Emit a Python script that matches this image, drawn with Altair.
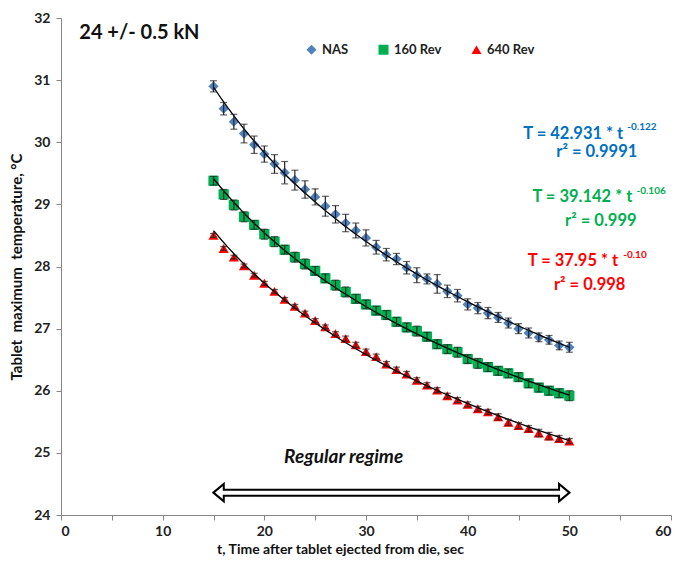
import altair as alt
import pandas as pd

# ---------------- data ----------------
t_vals = list(range(15, 51))
nas = [30.90, 30.54, 30.33, 30.14, 29.96, 29.81, 29.65, 29.51, 29.39, 29.24,
       29.12, 28.97, 28.84, 28.70, 28.58, 28.46, 28.31, 28.19, 28.12, 27.98,
       27.86, 27.80, 27.72, 27.60, 27.53, 27.39, 27.33, 27.25, 27.18, 27.09,
       27.00, 26.93, 26.86, 26.82, 26.73, 26.70]
rev160 = [29.38, 29.16, 28.99, 28.80, 28.67, 28.52, 28.40, 28.27, 28.15, 28.04,
          27.93, 27.81, 27.70, 27.59, 27.48, 27.39, 27.29, 27.22, 27.11, 27.02,
          26.96, 26.87, 26.75, 26.67, 26.62, 26.51, 26.44, 26.38, 26.32, 26.28,
          26.22, 26.12, 26.05, 26.00, 25.96, 25.92]
rev640 = [28.50, 28.29, 28.15, 28.01, 27.86, 27.73, 27.60, 27.47, 27.36, 27.25,
          27.13, 27.03, 26.92, 26.84, 26.74, 26.63, 26.55, 26.43, 26.34, 26.27,
          26.17, 26.09, 26.01, 25.92, 25.85, 25.78, 25.71, 25.66, 25.58, 25.49,
          25.44, 25.39, 25.32, 25.27, 25.23, 25.19]
err_nas = [0.09, 0.10, 0.12, 0.15, 0.14, 0.13, 0.15, 0.18, 0.16, 0.14,
           0.13, 0.16, 0.14, 0.14, 0.12, 0.13, 0.11, 0.10, 0.09, 0.10,
           0.12, 0.08, 0.15, 0.10, 0.10, 0.09, 0.09, 0.09, 0.08, 0.08,
           0.08, 0.08, 0.07, 0.07, 0.07, 0.08]
err_160 = [0.07, 0.08, 0.08, 0.08, 0.07, 0.08, 0.08, 0.07, 0.08, 0.08,
           0.07, 0.07, 0.08, 0.08, 0.07, 0.07, 0.07, 0.07, 0.07, 0.07,
           0.08, 0.07, 0.07, 0.07, 0.08, 0.07, 0.08, 0.07, 0.07, 0.07,
           0.07, 0.07, 0.07, 0.07, 0.07, 0.08]
err_640 = [0.03, 0.03, 0.03, 0.03, 0.03, 0.03, 0.03, 0.03, 0.03, 0.03,
           0.03, 0.03, 0.03, 0.04, 0.04, 0.04, 0.04, 0.04, 0.04, 0.04,
           0.04, 0.04, 0.04, 0.04, 0.04, 0.04, 0.04, 0.04, 0.05, 0.05,
           0.05, 0.05, 0.06, 0.06, 0.05, 0.04]
series_names = ["NAS", "160 Rev", "640 Rev"]
series_colors = ["#4F81BD", "#00B050", "#FF0000"]
series_shapes = ["diamond", "square", "triangle-up"]

rows = []
for name, vals, errs in [("NAS", nas, err_nas), ("160 Rev", rev160, err_160),
                         ("640 Rev", rev640, err_640)]:
    for t, v, e in zip(t_vals, vals, errs):
        rows.append({"series": name, "t": t, "T": v, "lo": v - e, "hi": v + e})
df = pd.DataFrame(rows)

FONT = "Lato"
x_scale = alt.Scale(domain=[0, 60], nice=False, zero=False)
y_scale = alt.Scale(domain=[24, 32], nice=False, zero=False)

base = alt.Chart(df)

x_axis = alt.Axis(values=list(range(0, 61, 5)), format="d",
                  labelExpr="datum.value % 10 == 0 ? datum.label : ''",
                  grid=False, tickSize=5, labelPadding=4, titlePadding=4,
                  titleX=279, titleFontSize=14,
                  domainColor="#868686", tickColor="#868686")
y_axis = alt.Axis(values=[24 + 0.5 * i for i in range(17)], format="d",
                  labelExpr="datum.value % 1 == 0 ? datum.label : ''",
                  grid=False, tickSize=5, labelPadding=6,
                  titleX=-45, titleBaseline="middle",
                  domainColor="#868686", tickColor="#868686")

points = base.mark_point(filled=True, size=105, opacity=1).encode(
    x=alt.X("t:Q", scale=x_scale, axis=x_axis,
            title="t, Time after tablet ejected from die, sec"),
    y=alt.Y("T:Q", scale=y_scale, axis=y_axis,
            title="Tablet\u00a0 maximum\u00a0 temperature, °C"),
    color=alt.Color("series:N",
                    scale=alt.Scale(domain=series_names, range=series_colors),
                    legend=alt.Legend(title=None, orient="none", direction="horizontal",
                                      legendX=244, legendY=25, columnPadding=28,
                                      symbolSize=100, labelFont=FONT, labelFontSize=13,
                                      labelFontWeight="bold", labelColor="#222222",
                                      symbolStrokeWidth=0)),
    shape=alt.Shape("series:N",
                    scale=alt.Scale(domain=series_names, range=series_shapes),
                    legend=None),
)

fit = base.transform_regression(
    "t", "T", method="pow", groupby=["series"], extent=[15, 50]
).mark_line(color="black", strokeWidth=1.3).encode(
    x=alt.X("t:Q", scale=x_scale),
    y=alt.Y("T:Q", scale=y_scale),
    detail="series:N",
)

err_rule = base.mark_rule(color="#222222", strokeWidth=1.2).encode(
    x=alt.X("t:Q", scale=x_scale), y=alt.Y("lo:Q", scale=y_scale), y2="hi:Q")
cap_lo = base.mark_tick(color="#222222", thickness=1.2, size=7, orient="horizontal").encode(
    x=alt.X("t:Q", scale=x_scale), y=alt.Y("lo:Q", scale=y_scale))
cap_hi = base.mark_tick(color="#222222", thickness=1.2, size=7, orient="horizontal").encode(
    x=alt.X("t:Q", scale=x_scale), y=alt.Y("hi:Q", scale=y_scale))

# ---------------- annotations ----------------
eq_main = pd.DataFrame({
    "x": [55.3, 56.2, 54.8],
    "y": [30.14, 29.12, 28.09],
    "text": ["T = 42.931 * t", "T = 39.142 * t", "T = 37.95 * t"],
    "c": ["#0070C0", "#00B050", "#FF0000"],
})
eq_sup = pd.DataFrame({
    "x": [55.7, 56.6, 55.3],
    "y": [30.24, 29.22, 28.19],
    "text": ["-0.122", "-0.106", "-0.10"],
    "c": ["#0070C0", "#00B050", "#FF0000"],
})
eq_r2 = pd.DataFrame({
    "x": [52.7, 53.1, 52.0],
    "y": [29.84, 28.74, 27.71],
    "text": ["r² = 0.9991", "r² = 0.999", "r² = 0.998"],
    "c": ["#0070C0", "#00B050", "#FF0000"],
})

def text_layer(d, **kw):
    return alt.Chart(d).mark_text(font=FONT, fontWeight="bold", **kw).encode(
        x=alt.X("x:Q", scale=x_scale), y=alt.Y("y:Q", scale=y_scale),
        text="text:N", color=alt.Color("c:N", scale=None))

t_main = text_layer(eq_main, align="right", fontSize=16.5)
t_sup = text_layer(eq_sup, align="left", fontSize=10)
t_r2 = text_layer(eq_r2, align="center", fontSize=16.5)

load_df = pd.DataFrame({"x": [1.8], "y": [31.76], "text": ["24 +/- 0.5 kN"]})
t_load = alt.Chart(load_df).mark_text(font=FONT, fontWeight="bold", fontSize=20,
                                      align="left", color="#111111").encode(
    x=alt.X("x:Q", scale=x_scale), y=alt.Y("y:Q", scale=y_scale), text="text:N")

reg_df = pd.DataFrame({"x": [27.8], "y": [24.94], "text": ["Regular regime"]})
t_reg = alt.Chart(reg_df).mark_text(font=FONT, fontWeight="bold", fontStyle="italic",
                                    fontSize=19, align="center", color="#111111").encode(
    x=alt.X("x:Q", scale=x_scale), y=alt.Y("y:Q", scale=y_scale), text="text:N")

# double-headed hollow arrow from t=15 to t=50
arrow_y = 24.36
shaft_df = pd.DataFrame({"x": [15.9], "x2": [49.1], "y": [arrow_y]})
shaft_in_df = pd.DataFrame({"x": [15.6], "x2": [49.4], "y": [arrow_y]})
heads_df = pd.DataFrame({"x": [15.5, 49.5], "y": [arrow_y, arrow_y],
                         "dir": ["L", "R"]})
shaft_out = alt.Chart(shaft_df).mark_rule(color="black", strokeWidth=8).encode(
    x=alt.X("x:Q", scale=x_scale), x2="x2:Q", y=alt.Y("y:Q", scale=y_scale))
shaft_in = alt.Chart(shaft_in_df).mark_rule(color="white", strokeWidth=4).encode(
    x=alt.X("x:Q", scale=x_scale), x2="x2:Q", y=alt.Y("y:Q", scale=y_scale))
heads = alt.Chart(heads_df).mark_point(filled=True, fill="white", stroke="black",
                                       strokeWidth=2, size=300, opacity=1).encode(
    x=alt.X("x:Q", scale=x_scale), y=alt.Y("y:Q", scale=y_scale),
    shape=alt.Shape("dir:N", scale=alt.Scale(
        domain=["L", "R"],
        range=["M -0.6 0 L 0.6 -1 L 0.6 1 Z", "M 0.6 0 L -0.6 -1 L -0.6 1 Z"]),
        legend=None))

chart = alt.layer(
    points, fit, err_rule, cap_lo, cap_hi,
    t_main, t_sup, t_r2, t_load, t_reg,
    shaft_out, heads, shaft_in,
).resolve_scale(color="independent", shape="independent").properties(
    width=610, height=497,
    autosize=alt.AutoSizeParams(type="none"),
    padding={"left": 53, "top": 10, "right": 6, "bottom": 45},
).configure_view(stroke=None).configure_axis(
    labelFont=FONT, labelFontSize=14, labelFontWeight="bold", labelColor="#222222",
    titleFont=FONT, titleFontSize=15, titleFontWeight="bold", titleColor="#111111",
)

chart.save("out.html", embed_options={"renderer": "svg", "actions": False})
